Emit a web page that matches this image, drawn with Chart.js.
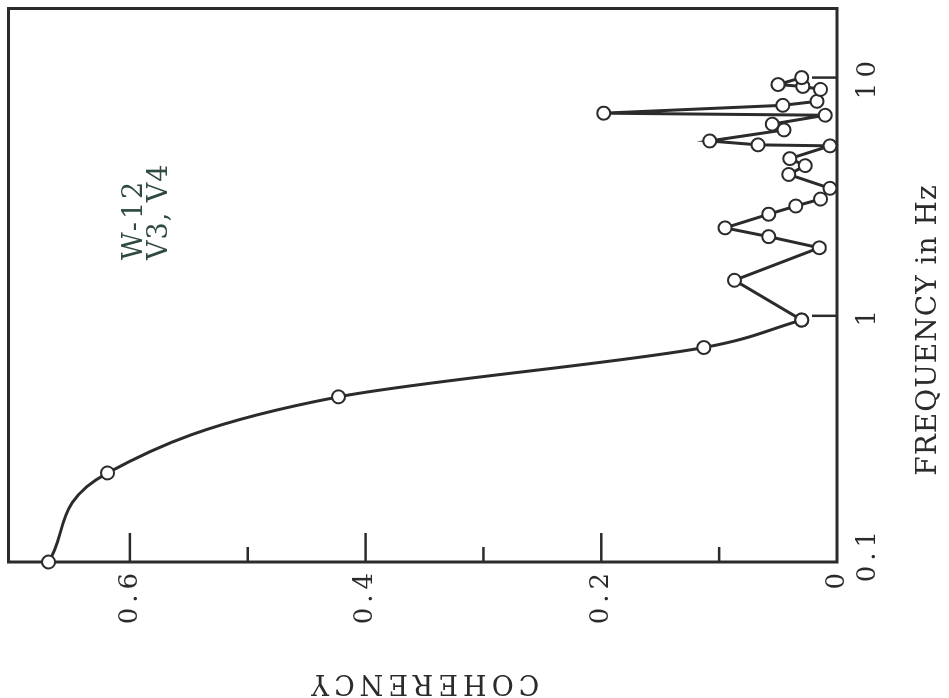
<!DOCTYPE html>
<html>
<head>
<meta charset="utf-8">
<script src="https://cdn.jsdelivr.net/npm/chart.js@4.4.1/dist/chart.umd.min.js"></script>
<style>
  html, body { margin: 0; padding: 0; background: #fff; overflow: hidden; }
  /* the scanned figure sits on its side, so the chart is drawn upright and turned */
  #wrap {
    position: absolute; left: 0; top: 0;
    width: 698px; height: 949px;
    transform-origin: 0 0;
    transform: translateY(698px) rotate(-90deg);
  }
</style>
</head>
<body>
<div id="wrap"><canvas id="coh" width="698" height="949"></canvas></div>
<script>
// W-12, V3/V4 coherency vs frequency
const freqHz = [0.0926, 0.219, 0.457, 0.736, 0.96, 1.41, 1.93, 2.15, 2.34, 2.67,
                2.89, 3.09, 3.43, 3.92, 4.27, 4.57, 5.17, 5.22, 5.42, 6.03,
                6.38, 6.95, 7.09, 7.65, 7.95, 8.92, 9.18, 9.35, 10.0];
const coherency = [0.669, 0.619, 0.423, 0.113, 0.030, 0.087, 0.015, 0.058, 0.095, 0.058,
                   0.035, 0.014, 0.006, 0.041, 0.027, 0.040, 0.006, 0.067, 0.108, 0.045,
                   0.055, 0.010, 0.198, 0.046, 0.017, 0.014, 0.029, 0.050, 0.030];
const smoothCount = 5; // first points are joined by a drawn curve

const freqTicks = [0.1, 1, 10];
const freqMarks = [1, 10];
const cohTicks = [0, 0.2, 0.4, 0.6];
const cohMajor = [0.2, 0.4, 0.6];
const cohMinor = [0.1, 0.3, 0.5];

const ink = '#2b2b2b';
const fontFam = "'DejaVu Serif', 'Liberation Serif', serif";
Chart.defaults.font.family = fontFam;
Chart.defaults.color = ink;

function toPoints(from, to) {
    let pts = [];
    for (var i = from; i < to; i++) {
        pts.push({x: freqHz[i], y: coherency[i]});
    }
    return pts;
}

const paperPlugin = {
    id: 'paper',
    beforeDraw(chart) {
        // typewriter lettering is widely spaced
        chart.ctx.letterSpacing = '5px';
    },
    beforeDatasetsDraw(chart) {
        const ctx = chart.ctx;
        const a = chart.chartArea;
        const x = chart.scales.x;
        const y = chart.scales.y;
        ctx.save();
        ctx.strokeStyle = ink;
        ctx.lineWidth = 3;
        ctx.strokeRect(a.left, a.top, a.right - a.left, a.bottom - a.top);
        ctx.lineWidth = 2.5;
        // tick marks point into the frame
        cohMajor.forEach(v => {
            let p = y.getPixelForValue(v);
            ctx.beginPath(); ctx.moveTo(a.left, p); ctx.lineTo(a.left + 29, p); ctx.stroke();
        });
        cohMinor.forEach(v => {
            let p = y.getPixelForValue(v);
            ctx.beginPath(); ctx.moveTo(a.left, p); ctx.lineTo(a.left + 15, p); ctx.stroke();
        });
        freqMarks.forEach(v => {
            let p = x.getPixelForValue(v);
            ctx.beginPath(); ctx.moveTo(p, a.bottom); ctx.lineTo(p, a.bottom - 25); ctx.stroke();
        });
        ctx.restore();
    },
    afterDraw(chart) {
        const ctx = chart.ctx;
        ctx.save();
        ctx.fillStyle = ink;
        ctx.letterSpacing = '1px';
        ctx.font = '28px ' + fontFam;
        ctx.textAlign = 'center';
        ctx.textBaseline = 'middle';
        ctx.fillText('FREQUENCY in Hz', 368, 929);
        // station label inside the plot
        ctx.fillStyle = '#2e4a42';
        ctx.letterSpacing = '3px';
        ctx.font = '27px ' + fontFam;
        ctx.textAlign = 'left';
        ctx.textBaseline = 'alphabetic';
        ctx.fillText('W-12', 438, 142);
        ctx.letterSpacing = '1px';
        ctx.fillText('V3, V4', 438, 167);
        ctx.restore();
    }
};

const lineStyle = {
    borderColor: ink,
    borderWidth: 3,
    pointRadius: 6.5,
    pointBackgroundColor: '#fff',
    pointBorderColor: ink,
    pointBorderWidth: 2,
    showLine: true,
    clip: false
};

new Chart(document.getElementById('coh'), {
    type: 'scatter',
    data: {
        datasets: [
            Object.assign({data: toPoints(0, smoothCount), cubicInterpolationMode: 'monotone'}, lineStyle),
            Object.assign({data: toPoints(smoothCount - 1, freqHz.length), tension: 0}, lineStyle)
        ]
    },
    options: {
        responsive: false,
        animation: false,
        events: [],
        layout: { padding: { left: 0, right: 5, top: 5, bottom: 0 } },
        plugins: { legend: { display: false }, tooltip: { enabled: false } },
        scales: {
            x: {
                type: 'logarithmic',
                min: 0.0926,
                max: 19.5,
                grid: { display: false, drawTicks: false },
                border: { display: false },
                afterBuildTicks: s => { s.ticks = freqTicks.map(v => ({value: v})); },
                afterFit: s => { s.height = 112; s.paddingLeft = 0; s.paddingRight = 0; },
                ticks: {
                    autoSkip: false,
                    maxRotation: 0,
                    padding: 16,
                    font: { size: 26 },
                    callback: v => String(v)
                }
            },
            y: {
                min: 0,
                max: 0.703,
                grid: { display: false, drawTicks: false },
                border: { display: false },
                afterBuildTicks: s => { s.ticks = cohTicks.map(v => ({value: v})); },
                afterFit: s => { s.width = 136; s.paddingTop = 0; s.paddingBottom = 0; },
                ticks: {
                    padding: 6,
                    font: { size: 26 },
                    callback: v => v === 0 ? '0' : v.toFixed(1)
                },
                title: {
                    display: true,
                    text: 'COHERENCY',
                    font: { size: 27 },
                    padding: { top: 0, bottom: 0 }
                }
            }
        }
    },
    plugins: [paperPlugin]
});
</script>
</body>
</html>
